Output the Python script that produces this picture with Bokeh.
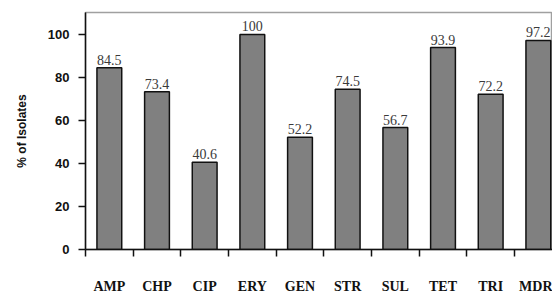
from bokeh.plotting import figure
from bokeh.models import ColumnDataSource, Range1d, FixedTicker
from bokeh.core.properties import value
from bokeh.embed import file_html
from bokeh.resources import INLINE

categories = ["AMP", "CHP", "CIP", "ERY", "GEN", "STR", "SUL", "TET", "TRI", "MDR"]
percent = [84.5, 73.4, 40.6, 100, 52.2, 74.5, 56.7, 93.9, 72.2, 97.2]
y_ticks = [0, 20, 40, 60, 80, 100]

Y_MAX = 110.2
xs = [i + 0.5 for i in range(len(categories))]
labels = [f"{v:g}" for v in percent]
src = ColumnDataSource(dict(x=xs, top=percent, label=labels))

p = figure(width=552, height=296, output_backend="svg", toolbar_location=None,
           x_range=Range1d(0, 9.797), y_range=Range1d(0, Y_MAX),
           min_border_left=85, min_border_right=0, min_border_top=12, min_border_bottom=46)
p.background_fill_color = "white"
p.border_fill_color = "white"
p.outline_line_color = "#a0a0a0"
p.outline_line_width = 1.5
p.xgrid.visible = False
p.ygrid.visible = False

p.vbar(x="x", top="top", width=0.52, source=src, fill_color="#808080",
       line_color="#111111", line_width=1.5)
p.text(x="x", y="top", text="label", source=src, text_align="center",
       text_baseline="bottom", y_offset=-3, text_font=value("Liberation Serif"),
       text_font_size="14px", text_color="#3a3a3a")

# x axis: category names at centers, ticks at category boundaries
xa = p.xaxis[0]
xa.ticker = FixedTicker(ticks=xs, minor_ticks=list(range(len(categories) + 1)))
xa.major_label_overrides = {x: c for x, c in zip(xs, categories)}
xa.major_tick_line_color = None
xa.major_tick_out = 0
xa.major_tick_in = 0
xa.minor_tick_line_color = "#111111"
xa.minor_tick_line_width = 1.5
xa.minor_tick_out = 7
xa.minor_tick_in = 0
xa.axis_line_color = "#111111"
xa.axis_line_width = 1.5
xa.major_label_standoff = 22
xa.major_label_text_font = "Liberation Serif"
xa.major_label_text_font_style = "bold"
xa.major_label_text_font_size = "14px"
xa.major_label_text_color = "#111111"

ya = p.yaxis[0]
ya.ticker = FixedTicker(ticks=y_ticks, minor_ticks=[])
ya.major_tick_out = 7
ya.major_tick_in = 0
ya.major_tick_line_color = "#111111"
ya.major_tick_line_width = 1.5
ya.axis_line_color = "#111111"
ya.axis_line_width = 1.5
ya.major_label_standoff = 9
ya.major_label_text_font = "Liberation Sans"
ya.major_label_text_font_style = "bold"
ya.major_label_text_font_size = "13px"
ya.major_label_text_color = "#111111"
ya.axis_label = "% of Isolates"
ya.axis_label_text_font = "Liberation Sans"
ya.axis_label_text_font_style = "bold"
ya.axis_label_text_font_size = "12px"
ya.axis_label_text_color = "#111111"
ya.axis_label_standoff = 16

open("out.html", "w").write(file_html(p, INLINE))
